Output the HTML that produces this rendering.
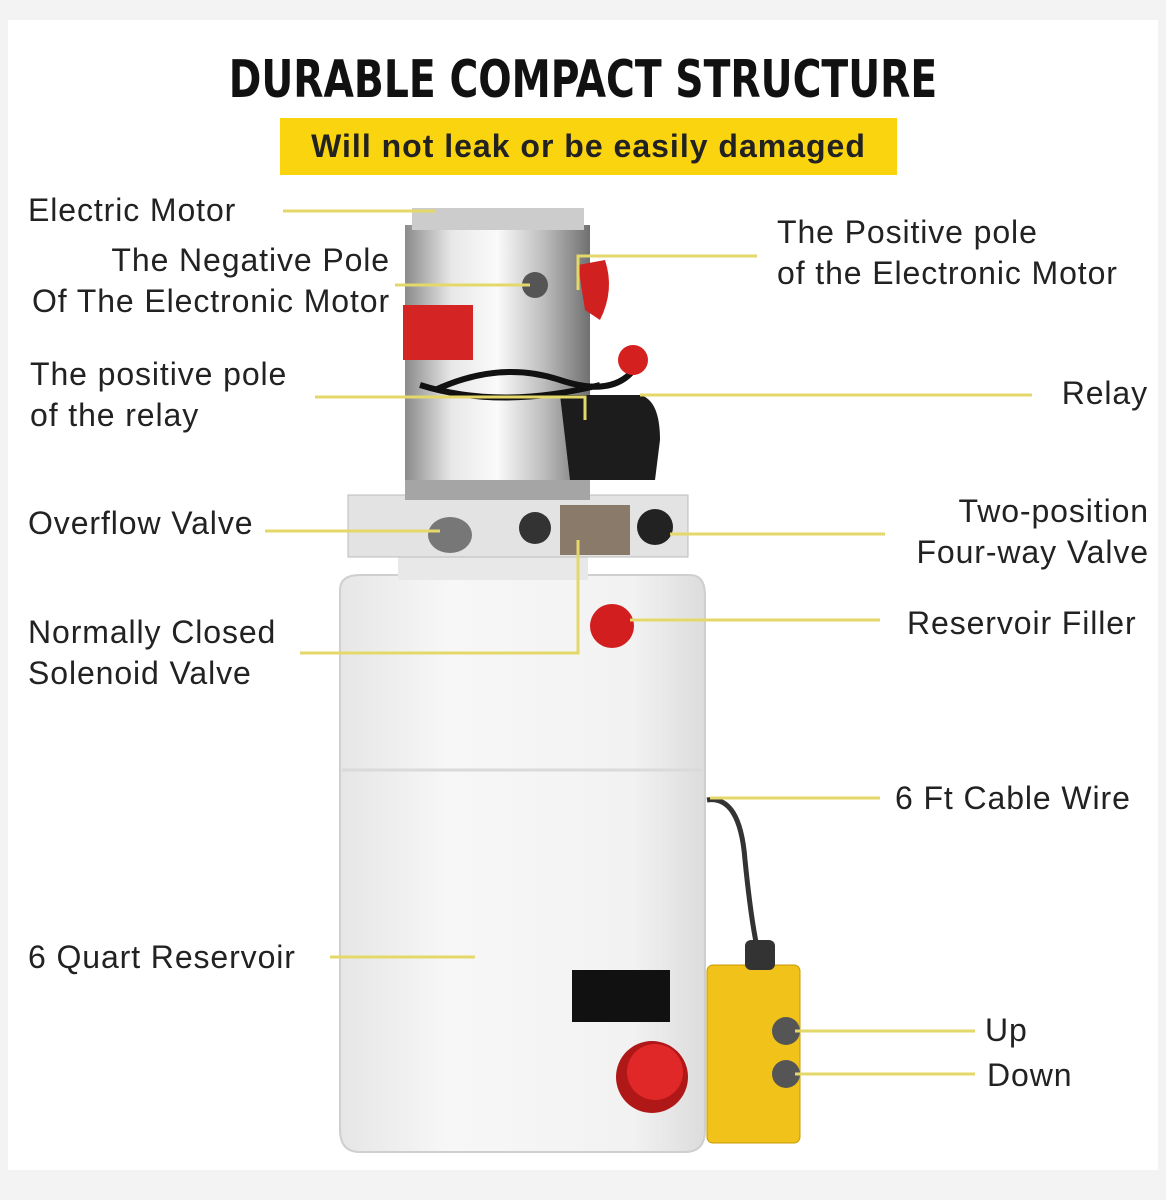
<!DOCTYPE html>
<html><head><meta charset="utf-8"><style>
body{margin:0;width:1166px;height:1200px;background:#f3f3f3;overflow:hidden;font-family:"Liberation Sans",sans-serif;position:relative}
.bg{position:absolute;left:8px;top:20px;width:1150px;height:1150px;background:#fff}
.t{position:absolute;font-size:32px;letter-spacing:0.9px;color:#222;line-height:41px;white-space:nowrap}
.r{text-align:right}
</style></head><body>
<div class="bg"></div>
<svg width="1166" height="1200" style="position:absolute;left:0;top:0">
<defs>
<linearGradient id="m" x1="0" x2="1"><stop offset="0" stop-color="#8a8a8a"/><stop offset=".25" stop-color="#e8e8e8"/><stop offset=".5" stop-color="#fafafa"/><stop offset=".75" stop-color="#bdbdbd"/><stop offset="1" stop-color="#707070"/></linearGradient>
<linearGradient id="tk" x1="0" x2="1"><stop offset="0" stop-color="#e6e6e6"/><stop offset=".3" stop-color="#f7f7f7"/><stop offset=".8" stop-color="#f2f2f2"/><stop offset="1" stop-color="#dcdcdc"/></linearGradient>
</defs>
<path d="M340 590 Q340 575 360 575 L690 575 Q705 575 705 595 L705 1130 Q705 1152 685 1152 L360 1152 Q340 1152 340 1130 Z" fill="url(#tk)" stroke="#cfcfcf" stroke-width="2"/>
<path d="M342 770 L703 770" stroke="#dadada" stroke-width="3"/>
<rect x="572" y="970" width="98" height="52" fill="#111"/>
<circle cx="652" cy="1077" r="36" fill="#b01818"/><circle cx="655" cy="1072" r="28" fill="#e02828"/>
<circle cx="612" cy="626" r="22" fill="#d21e1e"/>
<rect x="398" y="555" width="190" height="25" fill="#e8e8e8"/>
<rect x="348" y="495" width="340" height="62" fill="#e3e3e3" stroke="#bbb"/>
<ellipse cx="450" cy="535" rx="22" ry="18" fill="#777"/>
<circle cx="535" cy="528" r="16" fill="#333"/>
<rect x="560" y="505" width="70" height="50" fill="#8a7a6a"/>
<circle cx="655" cy="527" r="18" fill="#222"/>
<rect x="405" y="225" width="185" height="275" fill="url(#m)"/>
<rect x="412" y="208" width="172" height="22" fill="#ccc"/>
<rect x="405" y="480" width="185" height="20" fill="#a5a5a5"/>
<rect x="403" y="305" width="70" height="55" fill="#d42424"/>
<path d="M560 395 L640 395 Q660 400 660 440 L655 480 L570 480 Z" fill="#1c1c1c"/>
<path d="M435 390 Q500 360 560 380 Q620 400 640 360 M420 385 Q500 410 600 385" stroke="#111" stroke-width="6" fill="none"/>
<path d="M578 265 L605 260 Q615 290 600 320 L585 310 Z" fill="#d02020"/>
<circle cx="633" cy="360" r="15" fill="#d52020"/>
<circle cx="535" cy="285" r="13" fill="#555"/>
<path d="M707 800 Q740 795 745 860 Q752 930 760 960" stroke="#333" stroke-width="5" fill="none"/>
<rect x="707" y="965" width="93" height="178" rx="6" fill="#f0c21a" stroke="#c99a00"/>
<rect x="745" y="940" width="30" height="30" rx="6" fill="#333"/>
<circle cx="786" cy="1031" r="14" fill="#555"/><circle cx="786" cy="1074" r="14" fill="#555"/>
<g stroke="#e5d86a" stroke-width="3" fill="none">
<path d="M283 211 L435 211"/>
<path d="M395 285 L530 285"/>
<path d="M578 290 L578 256 L757 256"/>
<path d="M315 397 L585 397 L585 420"/>
<path d="M640 395 L1032 395"/>
<path d="M265 531 L440 531"/>
<path d="M670 534 L885 534"/>
<path d="M300 653 L578 653 L578 540"/>
<path d="M630 620 L880 620"/>
<path d="M710 798 L880 798"/>
<path d="M330 957 L475 957"/>
<path d="M795 1031 L975 1031"/>
<path d="M795 1074 L975 1074"/>
</g>
</svg>
<div style="position:absolute;left:0;width:1166px;top:50px;text-align:center;font-family:'DejaVu Sans Condensed','Liberation Sans',sans-serif;font-weight:bold;font-size:52px;color:#111;transform:scaleX(.84)">DURABLE COMPACT STRUCTURE</div>
<div style="position:absolute;left:280px;top:118px;width:617px;height:57px;background:#fbd410;text-align:center;font-weight:bold;font-size:32px;letter-spacing:1px;line-height:57px;color:#222">Will not leak or be easily damaged</div>
<div class="t" style="left:28px;top:190px">Electric Motor</div>
<div class="t r" style="left:0px;width:390px;top:240px">The Negative Pole<br>Of The Electronic Motor</div>
<div class="t" style="left:777px;top:212px">The Positive pole<br>of the Electronic Motor</div>
<div class="t" style="left:30px;top:354px">The positive pole<br>of the relay</div>
<div class="t r" style="left:900px;width:248px;top:373px">Relay</div>
<div class="t" style="left:28px;top:503px">Overflow Valve</div>
<div class="t r" style="left:750px;width:399px;top:491px">Two-position<br>Four-way Valve</div>
<div class="t" style="left:28px;top:612px">Normally Closed<br>Solenoid Valve</div>
<div class="t" style="left:907px;top:603px">Reservoir Filler</div>
<div class="t" style="left:895px;top:778px">6 Ft Cable Wire</div>
<div class="t" style="left:28px;top:937px">6 Quart Reservoir</div>
<div class="t" style="left:985px;top:1010px">Up</div>
<div class="t" style="left:987px;top:1055px">Down</div>
</body></html>
